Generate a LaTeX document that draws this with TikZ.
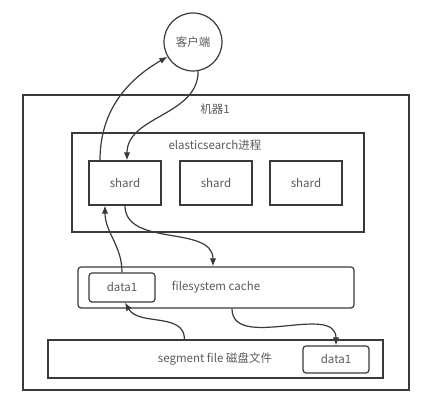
\documentclass[tikz,border=0pt]{standalone}
\usepackage{fontspec}
\setmainfont{Noto Sans CJK SC}
\usetikzlibrary{arrows.meta}
\definecolor{ln}{HTML}{3A3A3A}
\definecolor{tx}{HTML}{5A5A5A}
\begin{document}
\begin{tikzpicture}[x=1pt,y=1pt,
  box/.style={draw=ln,line width=1.2pt,inner sep=0pt,anchor=center},
  rbox/.style={box,rounded corners=3pt},
  lbl/.style={text=tx,font=\fontsize{11.5}{13}\selectfont,inner sep=0pt},
  arr/.style={draw=ln,line width=1.2pt,-{Latex[length=8pt,width=6.5pt]}}]
\useasboundingbox (0,0) rectangle (424,403);
\fill[white] (0,0) rectangle (424,403);
% outer machine box
\node[box,minimum width=386pt,minimum height=295pt] (m1) at (216,160.5) {};
\node[lbl] (m1l) at (215,294) {机器1};
% elasticsearch process
\node[box,minimum width=292pt,minimum height=99pt] (es) at (218,220.5) {};
\node[lbl] (esl) at (215,258) {elasticsearch进程};
\node[box,minimum width=72pt,minimum height=44pt,lbl,draw=ln] (s1) at (125,220) {shard};
\node[box,minimum width=72pt,minimum height=44pt,lbl,draw=ln] (s2) at (216,220) {shard};
\node[box,minimum width=72pt,minimum height=44pt,lbl,draw=ln] (s3) at (306,220) {shard};
% filesystem cache
\node[rbox,minimum width=276pt,minimum height=41pt] (fs) at (216,115.5) {};
\node[lbl] (fsl) at (216,115.5) {filesystem cache};
\node[rbox,minimum width=66pt,minimum height=29pt,lbl,draw=ln] (fsd) at (122,115.5) {data1};
% segment file
\node[box,minimum width=335pt,minimum height=38pt] (seg) at (215.5,44) {};
\node[lbl] (segl) at (215,44) {segment file 磁盘文件};
\node[rbox,minimum width=66pt,minimum height=27pt,lbl,draw=ln] (segd) at (336,43.5) {data1};
% client
\node[circle,draw=ln,line width=1.2pt,minimum size=58pt,lbl] (cl) at (193,361) {客户端};
% arrows
\draw[arr] ([xshift=-25pt]s1.north) to[out=90,in=210] (cl.210);
\draw[arr] (cl.280) to[out=270,in=90] ([xshift=2pt]s1.north);
\draw[arr] (s1.south) to[out=270,in=90] ([xshift=-3pt]fs.north);
\draw[arr] (fsd.north) to[out=90,in=270] ([xshift=-20pt]s1.south);
\draw[arr] ([xshift=-31pt]seg.north) to[out=90,in=-60] ([xshift=3pt]fsd.south);
\draw[arr] ([xshift=16pt]fs.south) to[out=270,in=90] (segd.north);
\end{tikzpicture}
\end{document}
